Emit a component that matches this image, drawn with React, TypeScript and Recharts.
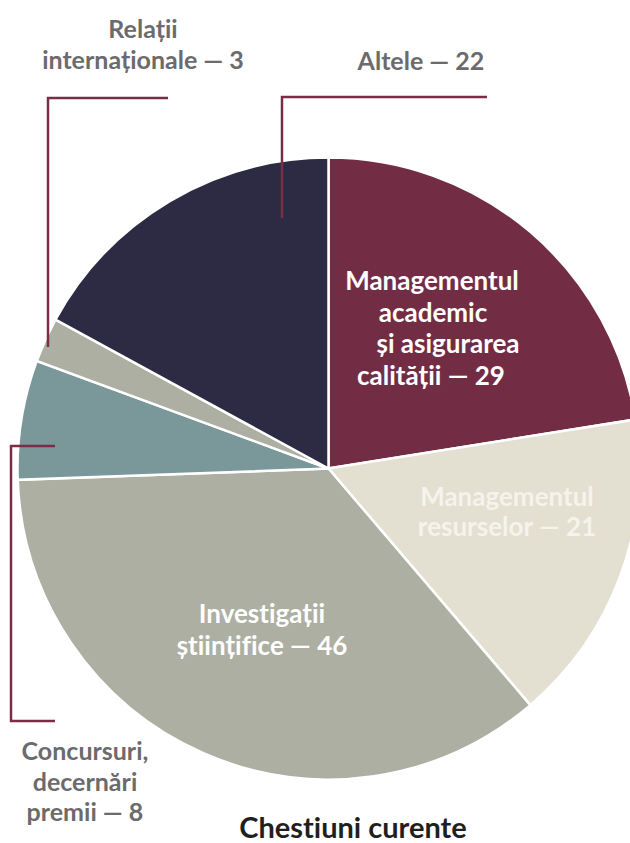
import { PieChart, Pie, Cell } from "recharts";

const categories = [
    "Managementul academic și asigurarea calității",
    "Managementul resurselor",
    "Investigații științifice",
    "Concursuri, decernări premii",
    "Relații internaționale",
    "Altele",
];
const counts = [29, 21, 46, 8, 3, 22];
const labelLines = [
    ["Managementul", "academic", "și asigurarea", "calității"],
    ["Managementul", "resurselor"],
    ["Investigații", "științifice"],
    ["Concursuri,", "decernări", "premii"],
    ["Relații", "internaționale"],
    ["Altele"],
];
const colors = ["#722d45", "#e3dfd1", "#adafa2", "#7a979a", "#adafa2", "#2d2b43"];

const data = categories.map((name, i) => ({ name, value: counts[i] }));

const CX = 328.5;
const CY = 468.5;
const R = 311;
const FONT = "Lato, 'Noto Sans', sans-serif";
const GREY = "#6b6b6d";
const LEADER = "#7b2d48";

// label placement relative to the pie centre
const layout = [
    { dx: 103.5, dy: -178.5, step: 31.5, fill: "#ffffff", shift: [0, 1, 16, -1] },
    { dx: 178.5, dy: 37.5, step: 30, fill: "#f6f3ec", shift: [0, 0] },
    { dx: -66.5, dy: 154.5, step: 32, fill: "#ffffff", shift: [0, 0] },
    { dx: -243.5, dy: 291.5, step: 30.5, fill: GREY, shift: [0, 0, 0], path: "M-273.5,-22.5 H-317.5 V252.5 H-273.5" },
    { dx: -185.5, dy: -430.5, step: 31, fill: GREY, shift: [0, 0], path: "M-160.5,-370.5 H-280.5 V-121.5" },
    { dx: 92.5, dy: -398.5, step: 31, fill: GREY, shift: [0], path: "M158.5,-371.5 H-46.5 V-250.5" },
];

function renderLabel(props: any) {
    const i = props.index;
    const cx = props.cx ?? CX;
    const cy = props.cy ?? CY;
    const l = layout[i];
    const lines = labelLines[i].slice();
    lines[lines.length - 1] = `${lines[lines.length - 1]} — ${counts[i]}`;
    const inner = i < 3;
    return (
        <g key={`lbl-${i}`}>
            {l.path && (
                <path
                    d={l.path}
                    transform={`translate(${cx},${cy})`}
                    fill="none"
                    stroke={LEADER}
                    strokeWidth={2.5}
                />
            )}
            <text
                textAnchor="middle"
                fill={l.fill}
                fontFamily={FONT}
                fontWeight={700}
                fontSize={inner ? 26 : 25}
                style={{ fontVariantLigatures: "none" }}
            >
                {lines.map((t, k) => (
                    <tspan key={k} x={cx + l.dx + l.shift[k]} y={cy + l.dy + k * l.step}>
                        {t}
                    </tspan>
                ))}
            </text>
        </g>
    );
}

export default function App() {
    return (
        <div style={{ position: "absolute", left: 0, top: 0, width: 630, height: 843, background: "#fff", overflow: "hidden" }}>
            <PieChart width={630} height={843} margin={{ top: 0, right: 0, bottom: 0, left: 0 }}>
                <Pie
                    data={data}
                    dataKey="value"
                    nameKey="name"
                    cx={CX}
                    cy={CY}
                    outerRadius={R}
                    startAngle={90}
                    endAngle={-270}
                    stroke="#ffffff"
                    strokeWidth={2.5}
                    label={renderLabel}
                    labelLine={false}
                    isAnimationActive={false}
                >
                    {data.map((entry, index) => (
                        <Cell key={`cell-${index}`} fill={colors[index]} />
                    ))}
                </Pie>
            </PieChart>
            <div
                style={{
                    position: "absolute",
                    left: 0,
                    width: 706,
                    top: 812,
                    textAlign: "center",
                    fontFamily: FONT,
                    fontWeight: 700,
                    fontSize: 29,
                    lineHeight: "29px",
                    color: "#1f1f1f",
                    fontVariantLigatures: "none",
                }}
            >
                Chestiuni curente
            </div>
        </div>
    );
}
